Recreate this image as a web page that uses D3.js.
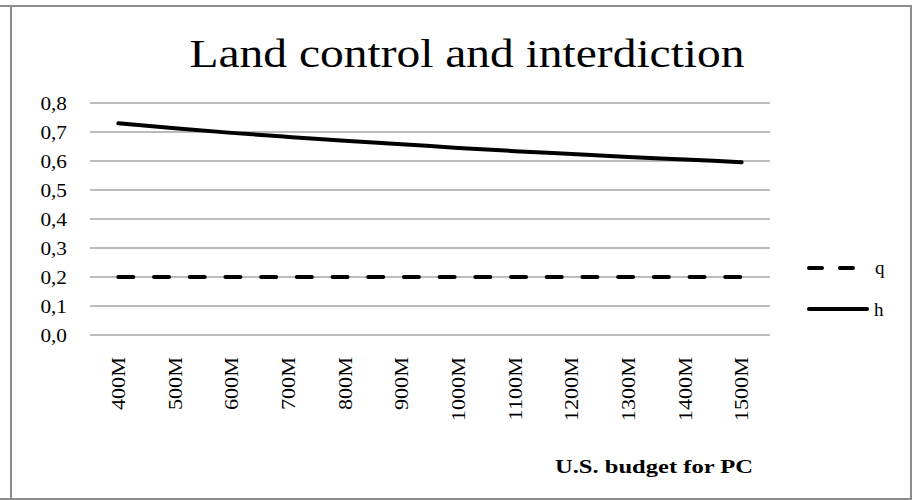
<!DOCTYPE html>
<html>
<head>
<meta charset="utf-8">
<script src="https://cdn.jsdelivr.net/npm/d3@7"></script>
<style>
  body { margin: 0; background: #fff; }
  text { font-family: "Liberation Serif", serif; fill: #000; }
</style>
</head>
<body>
<svg id="chart"></svg>
<script>
var budgets = ["400M", "500M", "600M", "700M", "800M", "900M", "1000M", "1100M", "1200M", "1300M", "1400M", "1500M"];
var qValues = [0.2, 0.2, 0.2, 0.2, 0.2, 0.2, 0.2, 0.2, 0.2, 0.2, 0.2, 0.2];
var hValues = [0.730, 0.713, 0.697, 0.683, 0.670, 0.658, 0.645, 0.634, 0.624, 0.614, 0.605, 0.596];
var yTicks = [0, 0.1, 0.2, 0.3, 0.4, 0.5, 0.6, 0.7, 0.8];

var width = 914,
    height = 500;

var svg = d3.select('#chart')
    .attr('width', width)
    .attr('height', height)

// the reference font is wider than Liberation Serif, so stretch text a bit
function widen(sel, factor) {
  sel.each(function() {
    var w = this.getComputedTextLength();
    d3.select(this)
      .attr('textLength', w * factor)
      .attr('lengthAdjust', 'spacingAndGlyphs')
  })
}

// outer frame
svg.append('line').attr('x1', 0).attr('x2', 912).attr('y1', 6).attr('y2', 6)
  .attr('stroke', '#8c8c8c').attr('stroke-width', 2)
svg.append('line').attr('x1', 11).attr('x2', 11).attr('y1', 6).attr('y2', 500)
  .attr('stroke', '#8c8c8c').attr('stroke-width', 2)
svg.append('line').attr('x1', 911).attr('x2', 911).attr('y1', 6).attr('y2', 499)
  .attr('stroke', '#8c8c8c').attr('stroke-width', 2)
svg.append('line').attr('x1', 0).attr('x2', 912).attr('y1', 499).attr('y2', 499)
  .attr('stroke', '#8c8c8c').attr('stroke-width', 2)

var x = d3.scalePoint()
    .domain(budgets)
    .range([90, 770])
    .padding(0.5)

var y = d3.scaleLinear()
    .domain([0, 0.8])
    .range([335, 103])

var comma = d3.formatLocale({decimal: ",", thousands: ".", grouping: [3], currency: ["", ""]}).format(".1f")

// gridlines
svg.append('g').selectAll('line')
  .data(yTicks)
  .enter()
  .append('line')
  .attr('x1', 90)
  .attr('x2', 770)
  .attr('y1', function(d) { return y(d); })
  .attr('y2', function(d) { return y(d); })
  .attr('stroke', '#a6a6a6')
  .attr('stroke-width', 1.5)

// y labels
var yLabels = svg.append('g').selectAll('text')
  .data(yTicks)
  .enter()
  .append('text')
  .attr('x', 67)
  .attr('y', function(d) { return y(d); })
  .attr('dy', '0.35em')
  .attr('text-anchor', 'end')
  .style('font-size', '19px')
  .text(function(d) { return comma(d); })
widen(yLabels, 1.12)

// x labels
var xLabels = svg.append('g').selectAll('text')
  .data(budgets)
  .enter()
  .append('text')
  .attr('transform', function(d) {
    return 'translate(' + x(d) + ',357) rotate(-90)';
  })
  .attr('dy', '0.35em')
  .attr('text-anchor', 'end')
  .style('font-size', '19px')
  .text(function(d) { return d; })
widen(xLabels, 1.17)

var line = d3.line()
    .x(function(d, i) { return x(budgets[i]); })
    .y(function(d) { return y(d); })

var hLine = d3.line()
    .x(function(d, i) { return x(budgets[i]); })
    .y(function(d) { return y(d); })
    .curve(d3.curveMonotoneX)

svg.append('path')
  .attr('d', line(qValues))
  .attr('fill', 'none')
  .attr('stroke', '#000')
  .attr('stroke-width', 4)
  .attr('stroke-linecap', 'round')
  .attr('stroke-dasharray', '15,20.7')

svg.append('path')
  .attr('d', hLine(hValues))
  .attr('fill', 'none')
  .attr('stroke', '#000')
  .attr('stroke-width', 4)
  .attr('stroke-linecap', 'round')

// legend
svg.append('line')
  .attr('x1', 809).attr('x2', 853).attr('y1', 268).attr('y2', 268)
  .attr('stroke', '#000').attr('stroke-width', 4)
  .attr('stroke-linecap', 'round').attr('stroke-dasharray', '13,18')
svg.append('text').attr('x', 875).attr('y', 268).attr('dy', '0.3em')
  .style('font-size', '19px').text('q')

svg.append('line')
  .attr('x1', 809).attr('x2', 867).attr('y1', 309).attr('y2', 309)
  .attr('stroke', '#000').attr('stroke-width', 4)
  .attr('stroke-linecap', 'round')
svg.append('text').attr('x', 874).attr('y', 309).attr('dy', '0.35em')
  .style('font-size', '19px').text('h')

// title
var title = svg.append('text')
  .attr('x', 467)
  .attr('y', 67)
  .attr('text-anchor', 'middle')
  .style('font-size', '41px')
  .text('Land control and interdiction')
  .attr('textLength', 555)
  .attr('lengthAdjust', 'spacingAndGlyphs')

// axis title
svg.append('text')
  .attr('x', 753)
  .attr('y', 473)
  .attr('text-anchor', 'end')
  .style('font-size', '19px')
  .style('font-weight', 'bold')
  .text('U.S. budget for PC')
  .attr('textLength', 198)
  .attr('lengthAdjust', 'spacingAndGlyphs')
</script>
</body>
</html>
